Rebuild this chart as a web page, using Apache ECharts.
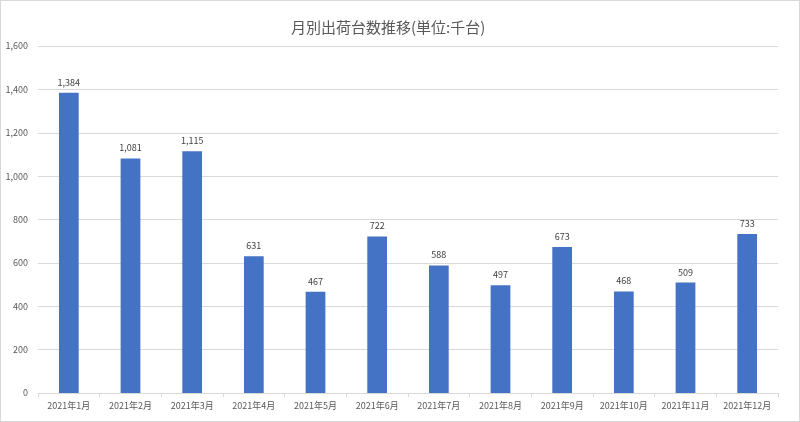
<!DOCTYPE html>
<html>
<head>
<meta charset="utf-8">
<script src="https://cdn.jsdelivr.net/npm/echarts@6/dist/echarts.min.js"></script>
<style>
  html, body { margin: 0; padding: 0; background: #fff; }
  #chart { width: 798px; height: 420px; border: 1px solid #d9d9d9; }
</style>
</head>
<body>
<div id="chart"></div>
<script>
const months = ['2021年1月','2021年2月','2021年3月','2021年4月','2021年5月','2021年6月',
                '2021年7月','2021年8月','2021年9月','2021年10月','2021年11月','2021年12月'];
const shipments = [1384, 1081, 1115, 631, 467, 722, 588, 497, 673, 468, 509, 733];

const chart = echarts.init(document.getElementById('chart'));
const font = '"Noto Sans CJK JP", "Noto Sans", sans-serif';

chart.setOption({
  animation: false,
  title: {
    text: '月別出荷台数推移(単位:千台)',
    left: 285,
    top: 14,
    textStyle: { fontFamily: font, fontSize: 15, fontWeight: 'normal', color: '#595959' }
  },
  grid: { left: 37, right: 21, top: 45, bottom: 28 },
  xAxis: {
    type: 'category',
    data: months,
    axisLine: { lineStyle: { color: '#d9d9d9' } },
    axisTick: { show: true, length: 4, lineStyle: { color: '#d9d9d9' } },
    axisLabel: { color: '#595959', fontSize: 9, fontFamily: font, interval: 0, margin: 8 }
  },
  yAxis: {
    type: 'value',
    min: 0,
    max: 1600,
    interval: 200,
    axisLine: { show: false },
    axisTick: { show: false },
    splitLine: { lineStyle: { color: '#d9d9d9' } },
    axisLabel: {
      color: '#595959', fontSize: 9, fontFamily: font, margin: 10,
      formatter: v => v.toLocaleString('en-US')
    }
  },
  series: [{
    type: 'bar',
    data: shipments,
    barWidth: '32%',
    itemStyle: { color: '#4472c4' },
    label: {
      show: true,
      position: 'top',
      distance: 6,
      color: '#404040',
      fontSize: 9,
      fontFamily: font,
      formatter: p => p.value.toLocaleString('en-US')
    }
  }]
});
</script>
</body>
</html>
